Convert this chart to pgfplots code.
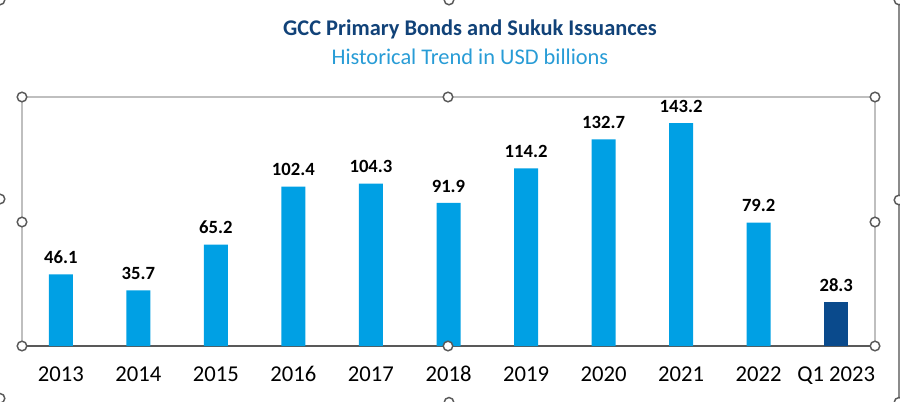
\documentclass[border=0pt]{standalone}
\usepackage{fontspec}
\setmainfont{Carlito}
\usepackage{pgfplots}
\pgfplotsset{compat=1.18}
\definecolor{barblue}{RGB}{0,160,228}
\definecolor{bardark}{RGB}{10,74,140}
\definecolor{titleblue}{RGB}{17,66,120}
\definecolor{subblue}{RGB}{40,156,214}
\definecolor{framegray}{RGB}{191,191,191}
\definecolor{axisgray}{RGB}{89,89,89}
\definecolor{handlegray}{RGB}{90,90,90}
\begin{document}
\begin{tikzpicture}[x=1pt,y=1pt]
\useasboundingbox (0,0) rectangle (675,300.75);
\draw[framegray, line width=0.8pt] (16.5,41.25) rectangle (656.25,228);
\draw[handlegray!70, line width=0.8pt] (674.25,0) -- (674.25,300.75);
\node[font=\bfseries\fontsize{16.8}{20}\selectfont, text=titleblue] at (352.5,278.5) {GCC Primary Bonds and Sukuk Issuances};
\node[font=\fontsize{16.8}{20}\selectfont, text=subblue] at (352.5,258) {Historical Trend in USD billions};
\begin{axis}[
  at={(16.5pt,41.25pt)}, anchor=south west,
  scale only axis, width=639.75pt, height=186.75pt,
  xmin=-0.5, xmax=10.5, ymin=0, ymax=160,
  axis x line=bottom, axis y line=none,
  x axis line style={-, draw=axisgray, line width=1.5pt},
  ytick=\empty,
  xtick={0,1,2,3,4,5,6,7,8,9,10},
  xticklabels={2013,2014,2015,2016,2017,2018,2019,2020,2021,2022,Q1 2023},
  major tick length=0pt,
  xticklabel style={font=\fontsize{17}{18}\selectfont, text=black, text height=11pt, text depth=0pt, yshift=-12pt},
  /pgf/number format/assume math mode=true,
  ybar, bar width=18pt, bar shift=0pt,
  nodes near coords,
  nodes near coords style={font=\bfseries\fontsize{14}{15}\selectfont, text=black, yshift=4.5pt},
  clip=false,
]
\addplot[fill=barblue, draw=none] coordinates {(0,46.1) (1,35.7) (2,65.2) (3,102.4) (4,104.3) (5,91.9) (6,114.2) (7,132.7) (8,143.2) (9,79.2)};
\addplot[fill=bardark, draw=none] coordinates {(10,28.3)};
\end{axis}
\tikzset{handle/.style={draw=handlegray, fill=white, line width=1.1pt}}
\foreach \p in {(16.5,41.25),(336,41.25),(656.25,41.25),(16.5,134.25),(656.25,134.25),(16.5,228),(336,228),(656.25,228),
  (0,300.75),(336.75,300.75),(674.25,300.75),(0,151.5),(674.25,150.75),(0,2),(336.75,-1),(674.25,-1)}
  \draw[handle] \p circle (3.6);
\end{tikzpicture}
\end{document}
